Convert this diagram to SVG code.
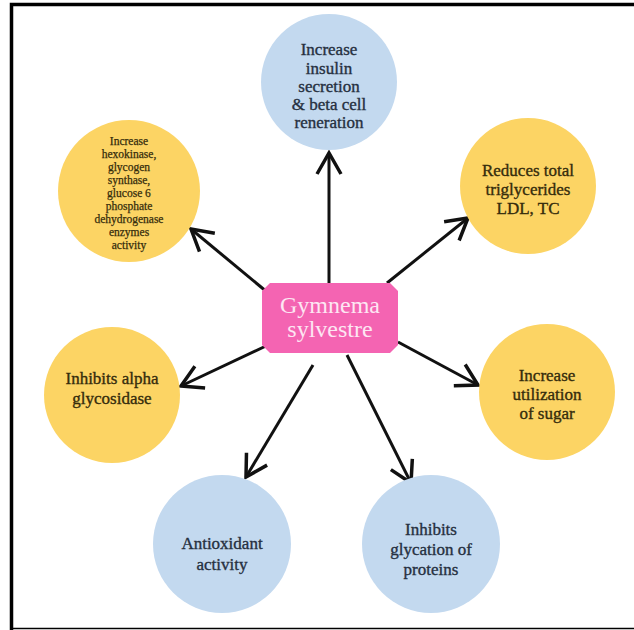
<svg xmlns="http://www.w3.org/2000/svg" width="634" height="630" viewBox="0 0 634 630">
<defs>
<marker id="ah" markerWidth="28" markerHeight="28" viewBox="-25 -14 28 28" refX="0" refY="0" orient="auto" markerUnits="userSpaceOnUse">
<path d="M-21,-12 L0,0 L-21,12" fill="none" stroke="#111" stroke-width="3.5" stroke-linejoin="miter"/>
</marker>
<style>
.y{fill:#FCD464}
.b{fill:#C3D9EF}
.t{font-family:'Liberation Serif','DejaVu Serif',serif;font-size:17px;text-anchor:middle;stroke-width:0.35px}
.s{font-family:'Liberation Serif','DejaVu Serif',serif;font-size:11.5px;fill:#352c0c;stroke:#352c0c;stroke-width:0.25px;text-anchor:middle}
.ty{fill:#352c0c;stroke:#352c0c}
.tb{fill:#26303f;stroke:#26303f}
.m{font-family:'Liberation Serif','DejaVu Serif',serif;font-size:24px;fill:#FDE6F2;text-anchor:middle}
.c{stroke:#111;stroke-width:3;fill:none;marker-end:url(#ah)}
</style>
</defs>
<rect x="0" y="0" width="634" height="630" fill="#fff"/>
<path d="M11.5,630 V4.5 H634" fill="none" stroke="#000" stroke-width="3.5"/>
<line x1="11" y1="628.5" x2="634" y2="628.5" stroke="#000" stroke-width="1.5"/>
<g id="connectors">
<line class="c" x1="329" y1="283" x2="329" y2="153"/>
<line class="c" x1="267" y1="292" x2="191" y2="229"/>
<line class="c" x1="387" y1="283" x2="468" y2="218"/>
<line class="c" x1="398" y1="342" x2="478" y2="385"/>
<line class="c" x1="347" y1="355" x2="411" y2="483"/>
<line class="c" x1="313" y1="365" x2="246" y2="477"/>
<line class="c" x1="266" y1="346" x2="181" y2="386"/>
</g>
<g id="n-insulin">
<circle class="b" cx="329" cy="82" r="68"/>
<text class="t tb" x="329" y="55">Increase</text>
<text class="t tb" x="329" y="74">insulin</text>
<text class="t tb" x="329" y="92">secretion</text>
<text class="t tb" x="329" y="110">&amp; beta cell</text>
<text class="t tb" x="329" y="128">reneration</text>
</g>
<g id="n-hexokinase">
<circle class="y" cx="129" cy="191" r="71"/>
<text class="s" x="129" y="145">Increase</text>
<text class="s" x="129" y="158">hexokinase,</text>
<text class="s" x="129" y="171">glycogen</text>
<text class="s" x="129" y="184">synthase,</text>
<text class="s" x="129" y="197">glucose 6</text>
<text class="s" x="129" y="210">phosphate</text>
<text class="s" x="129" y="223">dehydrogenase</text>
<text class="s" x="129" y="236">enzymes</text>
<text class="s" x="129" y="249">activity</text>
</g>
<g id="n-triglycerides">
<circle class="y" cx="528" cy="186" r="68"/>
<text class="t ty" x="528" y="176">Reduces total</text>
<text class="t ty" x="528" y="195">triglycerides</text>
<text class="t ty" x="528" y="214">LDL, TC</text>
</g>
<g id="n-center">
<path d="M270,283 H390 L398,291 V345 L390,353 H270 L262,345 V291 Z" fill="#F464B2"/>
<text class="m" x="330" y="313">Gymnema</text>
<text class="m" x="330" y="337">sylvestre</text>
</g>
<g id="n-sugar">
<circle class="y" cx="547" cy="392" r="68"/>
<text class="t ty" x="547" y="381">Increase</text>
<text class="t ty" x="547" y="400">utilization</text>
<text class="t ty" x="547" y="419">of sugar</text>
</g>
<g id="n-glycosidase">
<circle class="y" cx="112" cy="395" r="68"/>
<text class="t ty" x="112" y="384">Inhibits alpha</text>
<text class="t ty" x="112" y="404">glycosidase</text>
</g>
<g id="n-antioxidant">
<circle class="b" cx="222" cy="544" r="69"/>
<text class="t tb" x="222" y="549">Antioxidant</text>
<text class="t tb" x="222" y="570">activity</text>
</g>
<g id="n-glycation">
<circle class="b" cx="431" cy="544" r="69"/>
<text class="t tb" x="431" y="535">Inhibits</text>
<text class="t tb" x="431" y="555">glycation of</text>
<text class="t tb" x="431" y="575">proteins</text>
</g>
</svg>
